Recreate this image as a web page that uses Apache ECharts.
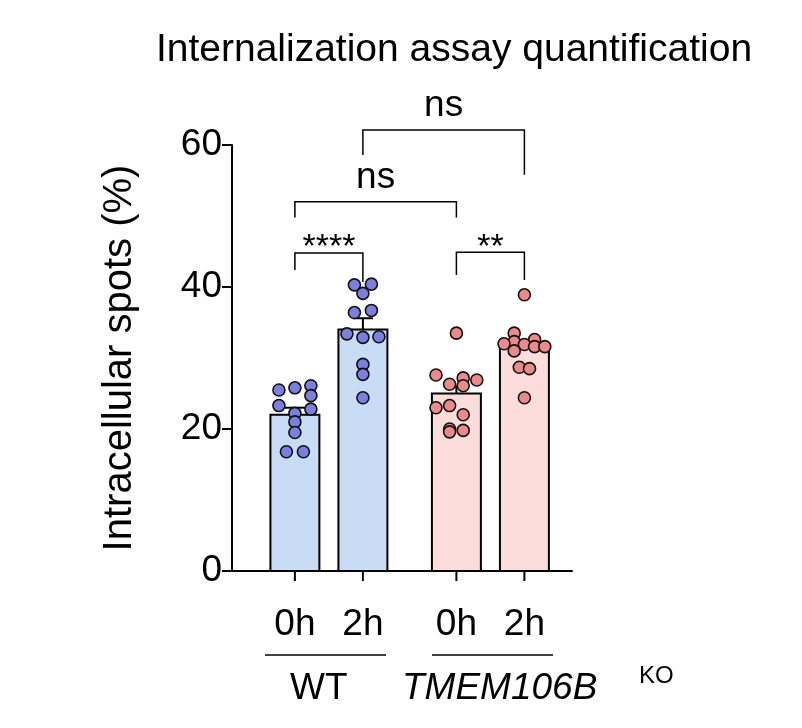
<!DOCTYPE html>
<html><head><meta charset="utf-8">
<script src="https://cdn.jsdelivr.net/npm/echarts@6/dist/echarts.min.js"></script>
<style>body{margin:0}#c{width:802px;height:728px}</style></head>
<body><div id="c"></div>
<script>
var groups = ['WT 0h', 'WT 2h', 'KO 0h', 'KO 2h'];
var xPos = [1.85, 3.85, 6.6, 8.6];
var means = [22, 34, 25, 31.5];
var sems = [1.0, 1.6, 1.0, 0.8];
var fills = ['#c8dcf5', '#c8dcf5', '#fddcdc', '#fddcdc'];
var dotColors = ['#7b7fe0', '#7b7fe0', '#ec8a8a', '#ec8a8a'];
var dots = [
  [[-0.47,25.5],[0,25.8],[0.47,26.1],[0.47,24.7],[-0.47,23.3],[0.47,22.8],[0,22.2],[0,21.0],[0,19.5],[-0.25,16.8],[0.25,16.8]],
  [[-0.25,40.3],[0.25,40.4],[0,39.1],[-0.25,36.4],[0.25,36.7],[-0.47,33.4],[0,32.9],[0.47,33.0],[0,29.1],[0,27.7],[0,24.4]],
  [[0,33.5],[-0.6,27.6],[0.2,27.2],[0.6,26.9],[-0.2,26.3],[0.2,26.1],[-0.6,23.0],[-0.2,23.3],[0.2,22.0],[-0.2,20.0],[-0.2,19.6],[0.2,19.8]],
  [[0,38.9],[-0.3,33.5],[0.3,32.6],[-0.3,32.3],[-0.6,32.0],[0,31.9],[0.3,31.6],[0.6,31.6],[-0.3,31.0],[-0.15,28.7],[0.15,28.5],[0,24.4]]
];
// [x1, x2, y, leg1 bottom, leg2 bottom, label]
var brackets = [
  [3.85, 8.6, 62.1, 58.6, 55.8, 'ns'],
  [1.85, 6.6, 52.0, 49.8, 49.8, 'ns'],
  [1.85, 3.85, 44.8, 42.4, 40.7, '****'],
  [6.6, 8.6, 44.9, 41.7, 41.0, '**']
];
var tickLabels = ['0h', '2h', '0h', '2h'];

var scatterSeries = dots.map(function (d, i) {
  return {
    type: 'scatter', symbolSize: 12, z: 5,
    data: d.map(function (p) { return [xPos[i] + p[0], p[1]]; }),
    itemStyle: { color: dotColors[i], borderColor: '#111', borderWidth: 1.6, opacity: 1 }
  };
});

var option = {
  animation: false,
  title: { text: 'Internalization assay quantification', left: 449, top: 26, textAlign: 'center',
    textStyle: { fontFamily: 'Liberation Sans', fontSize: 39, fontWeight: 'normal', color: '#000' } },
  grid: { left: 232, right: 230, top: 145, bottom: 157 },
  xAxis: { type: 'value', min: 0, max: 10, axisLine: { lineStyle: { color: '#000', width: 2 } },
    axisTick: { show: false }, axisLabel: { show: false }, splitLine: { show: false } },
  yAxis: { type: 'value', min: 0, max: 60, interval: 20,
    name: 'Intracellular spots (%)', nameLocation: 'middle', nameGap: 92,
    nameTextStyle: { fontFamily: 'Liberation Sans', fontSize: 40, color: '#000' },
    axisLine: { show: true, lineStyle: { color: '#000', width: 2 } },
    axisTick: { show: true, length: 10, lineStyle: { width: 2 } },
    axisLabel: { fontFamily: 'Liberation Sans', fontSize: 37, color: '#000', margin: 10 },
    splitLine: { show: false } },
  series: [{
    type: 'custom', z: 2,
    data: means.map(function (m, i) { return [xPos[i], m, sems[i], i]; }),
    renderItem: function (params, api) {
      var i = api.value(3), x = api.value(0), m = api.value(1), s = api.value(2);
      var lt = api.coord([x - 0.72, m]), rb = api.coord([x + 0.72, 0]);
      var top = api.coord([x, m + s]), c = api.coord([x, m]);
      var ls = { stroke: '#000', lineWidth: 2 };
      return { type: 'group', children: [
        { type: 'rect', shape: { x: lt[0], y: lt[1], width: rb[0] - lt[0], height: rb[1] - lt[1] },
          style: { fill: fills[i], stroke: '#000', lineWidth: 2 } },
        { type: 'line', shape: { x1: c[0], y1: c[1], x2: top[0], y2: top[1] }, style: ls, z2: 10 },
        { type: 'line', shape: { x1: top[0] - 10, y1: top[1], x2: top[0] + 10, y2: top[1] }, style: ls, z2: 10 },
        { type: 'line', shape: { x1: c[0], y1: rb[1], x2: c[0], y2: rb[1] + 10 }, style: ls },
        { type: 'text', style: { text: tickLabels[i], x: c[0], y: rb[1] + 72, align: 'center', verticalAlign: 'bottom',
          font: '37px "Liberation Sans"', fill: '#000' } }
      ] };
    }
  }, {
    type: 'custom', z: 1, clip: false,
    data: brackets.map(function (b, i) { return [b[0], b[1], b[2], b[3], b[4], i]; }),
    renderItem: function (params, api) {
      var b = brackets[api.value(5)];
      var a = api.coord([b[0], b[2]]), e = api.coord([b[1], b[2]]);
      var a2 = api.coord([b[0], b[3]]), e2 = api.coord([b[1], b[4]]);
      var stars = b[5].charAt(0) === '*';
      return { type: 'group', children: [
        { type: 'polyline', shape: { points: [a2, a, e, e2] }, style: { stroke: '#000', lineWidth: 1.5, fill: 'none' } },
        { type: 'text', style: { text: b[5], x: (a[0] + e[0]) / 2, y: a[1] - (stars ? -12 : 6), align: 'center', verticalAlign: 'bottom',
          font: (stars ? '34px' : '37px') + ' "Liberation Sans"', fill: '#000' } }
      ] };
    }
  }].concat(scatterSeries),
  graphic: [
    { type: 'line', shape: { x1: 265, y1: 655, x2: 386, y2: 655 }, style: { stroke: '#000', lineWidth: 1.5 } },
    { type: 'line', shape: { x1: 432, y1: 655, x2: 553, y2: 655 }, style: { stroke: '#000', lineWidth: 1.5 } },
    { type: 'text', left: 290, top: 670, style: { text: 'WT', font: '37px "Liberation Sans"', fill: '#000' } },
    { type: 'text', left: 402, top: 670, style: { text: 'TMEM106B', font: 'italic 37px "Liberation Sans"', fill: '#000' } },
    { type: 'text', left: 639, top: 664, style: { text: 'KO', font: '24px "Liberation Sans"', fill: '#000' } }
  ]
};
echarts.init(document.getElementById('c')).setOption(option);
</script></body></html>
